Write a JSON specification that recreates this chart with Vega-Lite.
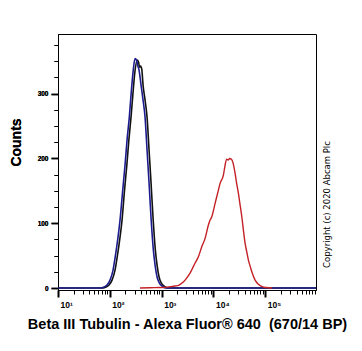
{
  "$schema": "https://vega.github.io/schema/vega-lite/v6.json",
  "width": 258,
  "height": 256,
  "autosize": {"type": "none"},
  "padding": {"left": 58, "top": 34, "right": 46, "bottom": 61},
  "background": "white",
  "config": {"view": {"stroke": "#000", "strokeWidth": 1}},
  "data": {"values": [
    {"s":"black","x":10,"y":0},{"s":"black","x":73.9,"y":0},{"s":"black","x":84.5,"y":1.5},{"s":"black","x":96.6,"y":4.6},{"s":"black","x":110.3,"y":12.3},{"s":"black","x":126.0,"y":27.8},{"s":"black","x":137.7,"y":46.3},{"s":"black","x":157.3,"y":78.7},{"s":"black","x":172.0,"y":104.9},{"s":"black","x":192.2,"y":151.2},{"s":"black","x":213.0,"y":189.8},{"s":"black","x":232.8,"y":228.3},{"s":"black","x":256.4,"y":263.8},{"s":"black","x":277.8,"y":297.7},{"s":"black","x":303.9,"y":333.2},{"s":"black","x":339.7,"y":351.8},{"s":"black","x":358.2,"y":348.6},{"s":"black","x":374.4,"y":340.9},{"s":"black","x":391.3,"y":342.4},{"s":"black","x":412.9,"y":337.8},{"s":"black","x":437.6,"y":313.1},{"s":"black","x":478.3,"y":290.0},{"s":"black","x":522.6,"y":263.8},{"s":"black","x":571.5,"y":212.9},{"s":"black","x":624.1,"y":162.0},{"s":"black","x":682.3,"y":108.0},{"s":"black","x":755.3,"y":58.6},{"s":"black","x":815.3,"y":35.5},{"s":"black","x":890.9,"y":17.0},{"s":"black","x":986.9,"y":7.7},{"s":"black","x":1112,"y":3.1},{"s":"black","x":1330,"y":0},{"s":"black","x":950000,"y":0},
    {"s":"blue","x":10,"y":0},{"s":"blue","x":64.7,"y":0},{"s":"blue","x":77.3,"y":1.5},{"s":"blue","x":88.3,"y":4.6},{"s":"blue","x":100.9,"y":12.3},{"s":"blue","x":115.4,"y":27.8},{"s":"blue","x":126.0,"y":46.3},{"s":"blue","x":143.9,"y":78.7},{"s":"blue","x":157.3,"y":104.9},{"s":"blue","x":177.4,"y":151.2},{"s":"blue","x":196.5,"y":189.8},{"s":"blue","x":214.7,"y":228.3},{"s":"blue","x":237.7,"y":263.8},{"s":"blue","x":256.4,"y":297.7},{"s":"blue","x":280.4,"y":333.2},{"s":"blue","x":306.4,"y":354.0},{"s":"blue","x":327.5,"y":351.7},{"s":"blue","x":342.5,"y":344.0},{"s":"blue","x":366.3,"y":336.3},{"s":"blue","x":400.2,"y":313.1},{"s":"blue","x":437.6,"y":290.0},{"s":"blue","x":478.3,"y":263.8},{"s":"blue","x":522.6,"y":212.9},{"s":"blue","x":571.5,"y":162.0},{"s":"blue","x":624.1,"y":108.0},{"s":"blue","x":691.8,"y":58.6},{"s":"blue","x":746.4,"y":35.5},{"s":"blue","x":815.3,"y":17.0},{"s":"blue","x":903.6,"y":7.7},{"s":"blue","x":1018,"y":3.1},{"s":"blue","x":1217,"y":0},{"s":"blue","x":950000,"y":0},
    {"s":"red","x":382.6,"y":0},{"s":"red","x":597.4,"y":0.5},{"s":"red","x":931,"y":0.8},{"s":"red","x":1163,"y":1.1},{"s":"red","x":1452,"y":2.0},{"s":"red","x":1815,"y":3.1},{"s":"red","x":2168,"y":4.6},{"s":"red","x":2477,"y":7.7},{"s":"red","x":2830,"y":12.3},{"s":"red","x":3234,"y":18.5},{"s":"red","x":3534,"y":23.1},{"s":"red","x":3952,"y":30.8},{"s":"red","x":4415,"y":38.6},{"s":"red","x":5110,"y":48.3},{"s":"red","x":5940,"y":63.7},{"s":"red","x":6884,"y":76.7},{"s":"red","x":7975,"y":97.2},{"s":"red","x":8597,"y":104.9},{"s":"red","x":9268,"y":110.0},{"s":"red","x":10740,"y":130.6},{"s":"red","x":12440,"y":151.2},{"s":"red","x":13410,"y":161.5},{"s":"red","x":15530,"y":174.3},{"s":"red","x":16750,"y":189.7},{"s":"red","x":17910,"y":199.0},{"s":"red","x":19150,"y":197.5},{"s":"red","x":20470,"y":199.8},{"s":"red","x":22350,"y":198.2},{"s":"red","x":23890,"y":192.8},{"s":"red","x":26120,"y":176.9},{"s":"red","x":27920,"y":162.0},{"s":"red","x":30260,"y":146.1},{"s":"red","x":32650,"y":128.0},{"s":"red","x":35190,"y":110.0},{"s":"red","x":37770,"y":89.5},{"s":"red","x":40740,"y":68.9},{"s":"red","x":43950,"y":55.5},{"s":"red","x":47190,"y":43.2},{"s":"red","x":50910,"y":33.9},{"s":"red","x":54850,"y":25.1},{"s":"red","x":63520,"y":12.3},{"s":"red","x":72610,"y":6.2},{"s":"red","x":86750,"y":2.3},{"s":"red","x":103600,"y":0.8},{"s":"red","x":135300,"y":0}
  ]},
  "encoding": {
    "x": {"field": "x", "type": "quantitative",
      "scale": {"type": "log", "domain": [10, 950000], "nice": false},
      "axis": {
        "orient": "bottom",
        "values": [10,20,30,40,50,60,70,80,90,100,200,300,400,500,600,700,800,900,1000,2000,3000,4000,5000,6000,7000,8000,9000,10000,20000,30000,40000,50000,60000,70000,80000,90000,100000,200000,300000,400000,500000,600000,700000,800000,900000],
        "labelExpr": "datum.value == 10 ? '10¹' : datum.value == 100 ? '10²' : datum.value == 1000 ? '10³' : datum.value == 10000 ? '10⁴' : datum.value == 100000 ? '10⁵' : ''",
        "labelOverlap": false, "labelFlush": false, "labelBound": false,
        "labelAlign": "left", "labelOffset": 2, "labelPadding": 3,
        "labelFont": "Liberation Sans", "labelFontSize": 8.5, "labelFontWeight": "bold", "labelColor": "#000",
        "tickSize": {"condition": {"test": "indexof([10,100,1000,10000,100000], datum.value) >= 0", "value": 7}, "value": 4},
        "tickWidth": {"condition": {"test": "indexof([10,100,1000,10000,100000], datum.value) >= 0", "value": 2}, "value": 1},
        "tickColor": "#000", "domainColor": "#000", "grid": false,
        "title": "Beta III Tubulin - Alexa Fluor® 640\u00a0 (670/14 BP)",
        "titleFont": "Liberation Sans", "titleFontSize": 14.5, "titleFontWeight": "bold", "titleColor": "#000",
        "titleBaseline": "alphabetic", "titleY": 38
      }},
    "y": {"field": "y", "type": "quantitative",
      "scale": {"domain": [-3, 392], "nice": false, "zero": false},
      "axis": {
        "orient": "left",
        "values": [0,25,50,75,100,125,150,175,200,225,250,275,300,325,350,375],
        "labelExpr": "datum.value % 100 == 0 ? datum.label : ''",
        "labelOverlap": false, "labelFlush": false,
        "labelFont": "Liberation Sans", "labelFontSize": 6.5, "labelFontWeight": "bold", "labelColor": "#000", "labelPadding": 3,
        "tickSize": {"condition": {"test": "datum.value % 100 == 0", "value": 7}, "value": 4},
        "tickWidth": {"condition": {"test": "datum.value % 100 == 0", "value": 1.5}, "value": 1},
        "tickColor": "#000", "domainColor": "#000", "grid": false,
        "title": "Counts", "titleFont": "Liberation Sans", "titleFontSize": 14, "titleFontWeight": "bold", "titleColor": "#000",
        "titleBaseline": "alphabetic", "titleAlign": "center", "titleAngle": 270, "titleX": -38, "titleY": 108
      }}
  },
  "layer": [
    {"transform": [{"filter": "datum.s == 'black'"}], "mark": {"type": "line", "color": "#111111", "strokeWidth": 1.6, "interpolate": "monotone"}},
    {"transform": [{"filter": "datum.s == 'blue'"}], "mark": {"type": "line", "color": "#1c1c8f", "strokeWidth": 1.6, "interpolate": "monotone"}},
    {"transform": [{"filter": "datum.s == 'red'"}], "mark": {"type": "line", "color": "#c42126", "strokeWidth": 1.4, "interpolate": "monotone"},
      "encoding": {"y": {"field": "y", "type": "quantitative",
        "axis": {"orient": "right", "labels": false, "ticks": false, "domain": false, "grid": false,
          "title": "Copyright (c) 2020 Abcam Plc", "titleFont": "DejaVu Sans", "titleFontSize": 8.5, "titleFontWeight": "normal", "titleColor": "#000",
          "titleAngle": 270, "titleBaseline": "alphabetic", "titleAlign": "center", "titleX": 13, "titleY": 170}}}}
  ],
  "resolve": {"axis": {"y": "independent"}}
}
